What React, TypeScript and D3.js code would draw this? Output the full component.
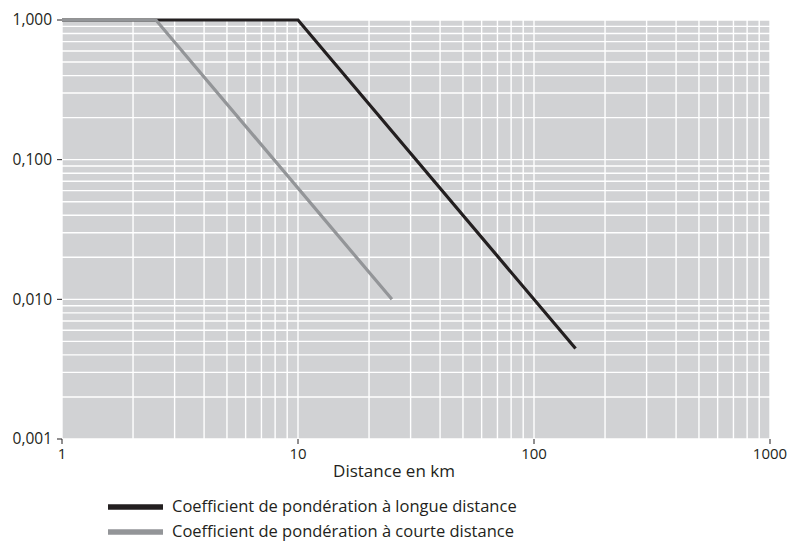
import React from "react";
import * as d3 from "d3";

// distances (km) and weighting coefficients
const longX = [1, 10, 150];
const longY = [1, 1, 0.00444];
const shortX = [1, 2.5, 25];
const shortY = [1, 1, 0.01];

const xTicks = [1, 10, 100, 1000];
const yTicks = [0.001, 0.01, 0.1, 1];
const xTitle = "Distance en km";
const legendLabels = [
  "Coefficient de pondération à longue distance",
  "Coefficient de pondération à courte distance",
];
const colors = ["#231f20", "#939598"];

const W = 790;
const H = 542;
const left = 62;
const right = 770;
const top = 20;
const bottom = 439;
const font = "'Open Sans', sans-serif";

const fr = d3.formatLocale({ decimal: ",", thousands: " ", grouping: [3], currency: ["", "€"] });
const yFmt = fr.format(".3f");

export default function App() {
  const x = d3.scaleLog().domain([1, 1000]).range([left, right]);
  const y = d3.scaleLog().domain([0.001, 1]).range([bottom, top]);

  const line = d3
    .line<[number, number]>()
    .x((d) => x(d[0]))
    .y((d) => y(d[1]));

  const longPts = longX.map((v, i) => [v, longY[i]] as [number, number]);
  const shortPts = shortX.map((v, i) => [v, shortY[i]] as [number, number]);

  return (
    <svg width={W} height={H} style={{ position: "absolute", left: 0, top: 0 }} fontFamily={font}>
      <rect x={left} y={top} width={right - left} height={bottom - top} fill="#d1d2d4" />
      {/* grid */}
      {x.ticks().map((t, i) => (
        <line key={"gx" + i} x1={x(t)} x2={x(t)} y1={top} y2={bottom} stroke="#fff" strokeWidth={1.4} />
      ))}
      {y.ticks().map((t, i) => (
        <line key={"gy" + i} x1={left} x2={right} y1={y(t)} y2={y(t)} stroke="#fff" strokeWidth={1.4} />
      ))}
      {/* axes ticks and labels */}
      {yTicks.map((t) => (
        <g key={"yt" + t}>
          <line x1={left - 5} x2={left} y1={y(t)} y2={y(t)} stroke="#231f20" strokeWidth={1} />
          <text x={52} y={y(t)} dy="0.35em" textAnchor="end" fontSize={15.5} fill="#231f20">
            {yFmt(t)}
          </text>
        </g>
      ))}
      {xTicks.map((t) => (
        <g key={"xt" + t}>
          <line x1={x(t)} x2={x(t)} y1={bottom} y2={bottom + 5} stroke="#231f20" strokeWidth={1} />
          <text x={x(t)} y={459} textAnchor="middle" fontSize={15} fill="#231f20">
            {t}
          </text>
        </g>
      ))}
      <text x={394} y={477} textAnchor="middle" fontSize={17} fill="#231f20">
        {xTitle}
      </text>
      {/* series */}
      <path d={line(longPts) || ""} fill="none" stroke={colors[0]} strokeWidth={3.2} />
      <path d={line(shortPts) || ""} fill="none" stroke={colors[1]} strokeWidth={3.2} />
      {/* legend */}
      {legendLabels.map((lab, i) => (
        <g key={lab} transform={`translate(108, ${507 + i * 25})`}>
          <line x1={0} x2={55} y1={0} y2={0} stroke={colors[i]} strokeWidth={5.5} />
          <text x={64} y={5} fontSize={16.5} fill="#231f20">
            {lab}
          </text>
        </g>
      ))}
    </svg>
  );
}
